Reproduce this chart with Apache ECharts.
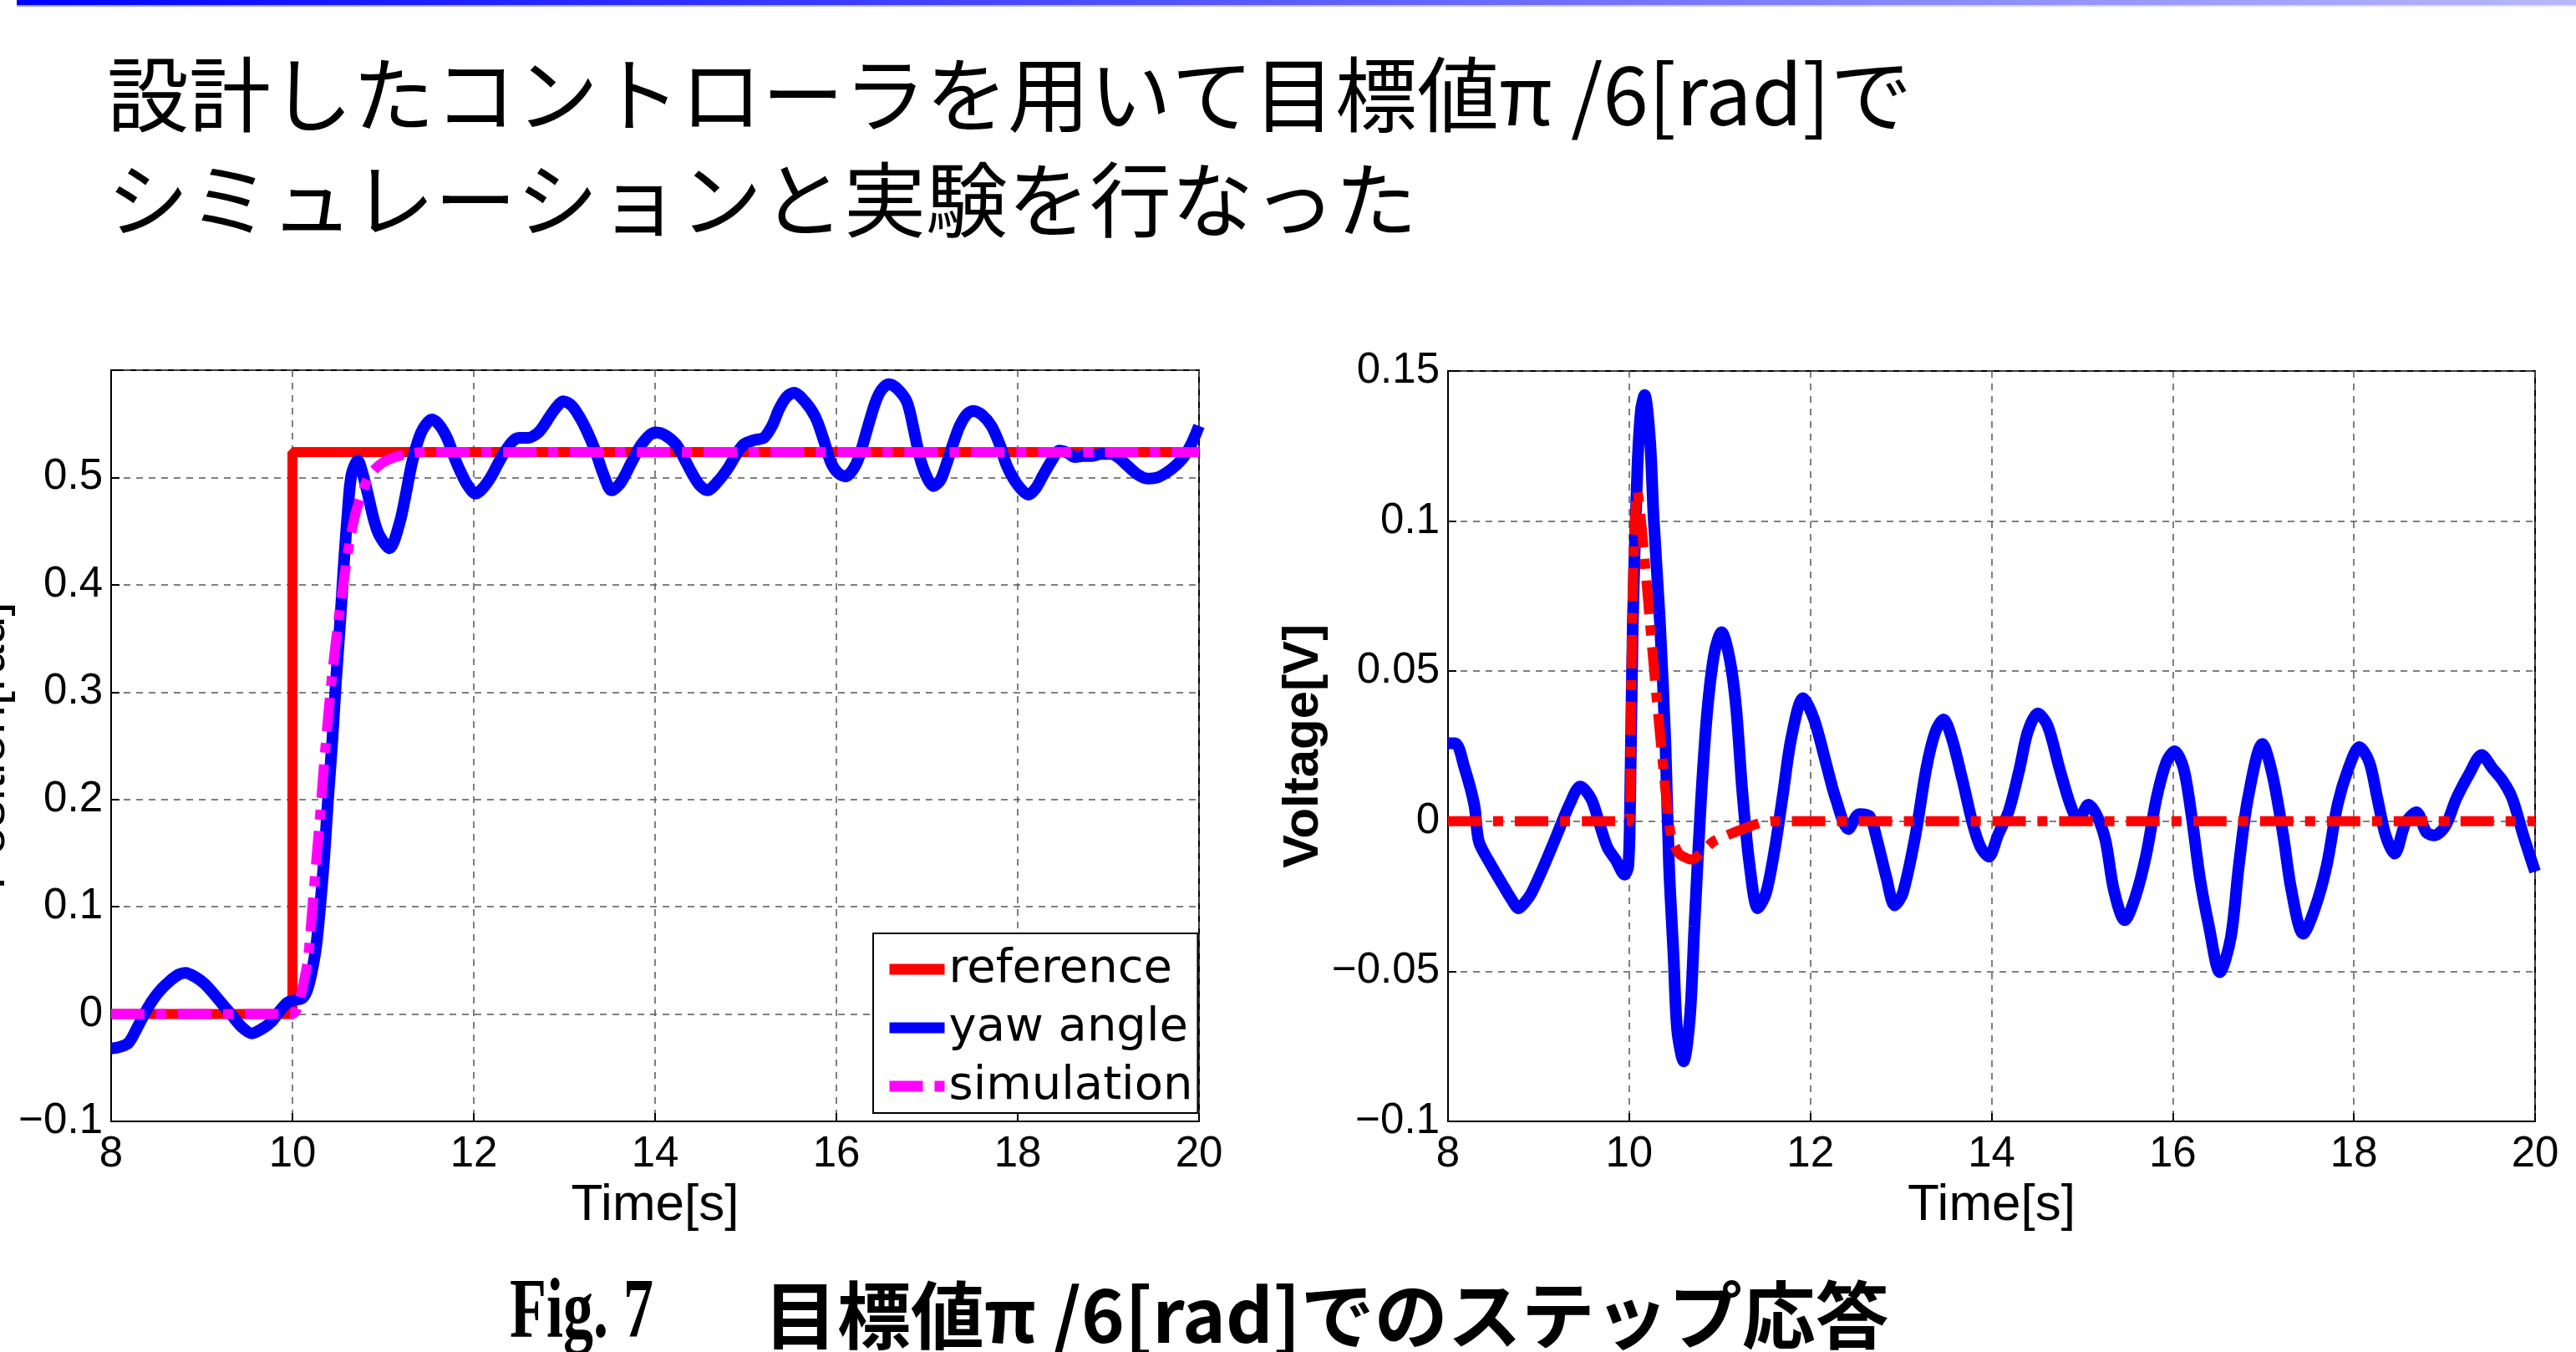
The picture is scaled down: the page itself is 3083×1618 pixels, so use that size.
<!DOCTYPE html>
<html>
<head>
<meta charset="utf-8">
<title>目標値π/6[rad]でのステップ応答</title>
<script src="https://cdn.jsdelivr.net/npm/echarts/dist/echarts.min.js"></script>
<style>
  html, body { margin: 0; padding: 0; background: #fff; }
  #chart { width: 3083px; height: 1618px; }
</style>
</head>
<body>
<div id="chart"></div>
<script>
// --- left plot: position response ---
const refTime = [8, 10, 10, 20]
const refAngle = [0, 0, 0.5236, 0.5236]

const yawTime = [8.0, 8.08, 8.19, 8.28, 8.36, 8.45, 8.54, 8.65, 8.75, 8.82, 8.92, 9.02, 9.11, 9.22, 9.33, 9.44, 9.55, 9.66, 9.77, 9.86, 9.95, 10.03, 10.11, 10.16, 10.21, 10.26, 10.3, 10.35, 10.39, 10.44, 10.48, 10.53, 10.57, 10.61, 10.65, 10.72, 10.77, 10.83, 10.9, 10.96, 11.07, 11.18, 11.25, 11.32, 11.42, 11.54, 11.62, 11.71, 11.78, 11.84, 11.93, 12.02, 12.1, 12.2, 12.3, 12.42, 12.5, 12.6, 12.7, 12.77, 12.88, 12.99, 13.08, 13.17, 13.25, 13.34, 13.43, 13.52, 13.62, 13.74, 13.86, 14.0, 14.1, 14.23, 14.32, 14.4, 14.49, 14.58, 14.68, 14.8, 14.9, 14.98, 15.1, 15.2, 15.29, 15.37, 15.45, 15.53, 15.65, 15.77, 15.86, 15.94, 16.02, 16.1, 16.18, 16.25, 16.34, 16.43, 16.5, 16.58, 16.68, 16.78, 16.85, 16.92, 17.0, 17.07, 17.15, 17.22, 17.29, 17.36, 17.44, 17.51, 17.61, 17.71, 17.8, 17.88, 18.0, 18.12, 18.2, 18.28, 18.37, 18.46, 18.55, 18.63, 18.72, 18.81, 18.92, 19.03, 19.12, 19.21, 19.32, 19.43, 19.54, 19.65, 19.74, 19.83, 19.92, 20.0]
const yawAngle = [-0.032, -0.031, -0.027, -0.014, -0.001, 0.012, 0.022, 0.031, 0.037, 0.0385, 0.035, 0.029, 0.021, 0.01, -0.001, -0.012, -0.018, -0.014, -0.007, 0.003, 0.011, 0.013, 0.015, 0.022, 0.038, 0.062, 0.095, 0.145, 0.197, 0.255, 0.31, 0.37, 0.423, 0.468, 0.502, 0.516, 0.505, 0.485, 0.46, 0.446, 0.434, 0.457, 0.484, 0.514, 0.542, 0.554, 0.549, 0.536, 0.52, 0.508, 0.493, 0.485, 0.49, 0.502, 0.518, 0.533, 0.537, 0.537, 0.541, 0.548, 0.562, 0.571, 0.567, 0.556, 0.543, 0.525, 0.503, 0.488, 0.495, 0.514, 0.532, 0.542, 0.54, 0.531, 0.518, 0.505, 0.493, 0.488, 0.495, 0.508, 0.522, 0.531, 0.535, 0.537, 0.548, 0.564, 0.575, 0.579, 0.571, 0.556, 0.535, 0.514, 0.504, 0.501, 0.507, 0.519, 0.545, 0.57, 0.582, 0.587, 0.582, 0.57, 0.546, 0.519, 0.5, 0.492, 0.498, 0.514, 0.532, 0.548, 0.559, 0.562, 0.558, 0.548, 0.531, 0.511, 0.493, 0.484, 0.49, 0.502, 0.515, 0.525, 0.523, 0.519, 0.52, 0.52, 0.522, 0.522, 0.518, 0.511, 0.503, 0.499, 0.5, 0.505, 0.511, 0.519, 0.532, 0.548]

const simTime = [8.0, 10.0, 10.05, 10.1, 10.17, 10.23, 10.3, 10.36, 10.43, 10.5, 10.57, 10.63, 10.7, 10.77, 10.83, 10.9, 11.0, 11.13, 11.27, 11.45, 20.0]
const simAngle = [0, 0, 0.005, 0.02, 0.05, 0.11, 0.18, 0.245, 0.31, 0.362, 0.406, 0.44, 0.468, 0.486, 0.499, 0.507, 0.514, 0.519, 0.522, 0.5236, 0.5236]

// --- right plot: input voltage ---
const voltTime = [8.0, 8.08, 8.18, 8.29, 8.34, 8.46, 8.6, 8.7, 8.78, 8.85, 8.92, 9.06, 9.2, 9.34, 9.46, 9.58, 9.67, 9.76, 9.85, 9.95, 9.99, 10.01, 10.04, 10.09, 10.13, 10.17, 10.23, 10.27, 10.34, 10.4, 10.44, 10.49, 10.53, 10.6, 10.67, 10.72, 10.79, 10.86, 10.94, 11.02, 11.11, 11.18, 11.25, 11.33, 11.42, 11.51, 11.61, 11.7, 11.79, 11.92, 12.04, 12.17, 12.28, 12.42, 12.54, 12.65, 12.74, 12.84, 12.93, 13.02, 13.16, 13.28, 13.38, 13.47, 13.56, 13.68, 13.79, 13.88, 13.97, 14.07, 14.19, 14.31, 14.4, 14.51, 14.62, 14.75, 14.87, 14.96, 15.07, 15.17, 15.26, 15.35, 15.47, 15.59, 15.71, 15.82, 15.93, 16.02, 16.12, 16.21, 16.3, 16.4, 16.52, 16.64, 16.73, 16.83, 16.99, 17.1, 17.22, 17.31, 17.44, 17.57, 17.7, 17.82, 17.94, 18.06, 18.17, 18.26, 18.35, 18.45, 18.57, 18.69, 18.8, 18.89, 19.01, 19.13, 19.27, 19.41, 19.53, 19.64, 19.75, 19.87, 20.0]
const voltMeasured = [0.026, 0.026, 0.018, 0.0055, -0.0067, -0.0138, -0.021, -0.026, -0.029, -0.027, -0.024, -0.0148, -0.0047, 0.0055, 0.0116, 0.0075, -0.0006, -0.0087, -0.0128, -0.0178, -0.015, 0.0055, 0.066, 0.117, 0.137, 0.142, 0.127, 0.101, 0.066, 0.026, -0.0148, -0.045, -0.0696, -0.08, -0.0655, -0.035, 0.0055, 0.036, 0.056, 0.063, 0.054, 0.038, 0.0095, -0.0148, -0.029, -0.024, -0.0087, 0.0095, 0.0278, 0.041, 0.034, 0.0197, 0.0075, -0.0026, 0.0024, 0.0018, -0.0067, -0.0189, -0.028, -0.024, -0.0047, 0.0176, 0.0298, 0.0339, 0.0278, 0.0136, -0.0006, -0.0087, -0.0118, -0.0047, 0.0034, 0.0176, 0.0298, 0.0359, 0.0318, 0.0176, 0.0055, 0.0004, 0.0055, 0.0014, -0.0067, -0.0229, -0.033, -0.025, -0.0108, 0.0075, 0.0197, 0.0233, 0.0176, 0.0014, -0.0189, -0.035, -0.0503, -0.039, -0.0148, 0.0075, 0.0258, 0.0156, -0.0047, -0.0229, -0.0375, -0.029, -0.0148, 0.0055, 0.0176, 0.0247, 0.0197, 0.0075, -0.0047, -0.0108, -0.0006, 0.003, -0.0037, -0.0047, -0.0016, 0.0075, 0.0156, 0.0221, 0.0176, 0.0136, 0.0075, -0.0047, -0.0168]

const voltSimTime = [8.0, 10.0, 10.02, 10.05, 10.09, 10.16, 10.23, 10.3, 10.39, 10.46, 10.55, 10.69, 10.93, 11.16, 11.44, 11.6, 20.0]
const voltSim = [0, 0, 0.04, 0.09, 0.11, 0.0907, 0.066, 0.042, 0.0136, -0.0047, -0.0108, -0.0128, -0.0067, -0.0037, -0.0006, 0, 0]

const xTicks = { min: 8, max: 20, interval: 2 }
const posTicks = { min: -0.1, max: 0.6, interval: 0.1, lastLabel: 0.5 }
const voltTicks = { min: -0.1, max: 0.15, interval: 0.05, lastLabel: 0.15 }

const headingText = '設計したコントローラを用いて目標値π /6[rad]で\nシミュレーションと実験を行なった'
const figLabel = 'Fig. 7'
const captionText = '目標値π /6[rad]でのステップ応答'

const zip = (xs, ys) => xs.map((x, i) => [x, ys[i]])

const DASH_DOT = [40, 14, 12, 14]
const gridLine = { show: true, lineStyle: { color: '#555', width: 1.5, type: [8, 7] } }
const tickFont = { fontFamily: 'Liberation Sans', fontSize: 51, color: '#000' }

const fmt = (last) => (v) => {
  if (v > last + 1e-9) return ''
  const s = String(parseFloat(v.toFixed(3)))
  return s.replace('-', '\u2212')
}

const xAxisOf = (idx) => ({
  type: 'value',
  gridIndex: idx,
  min: xTicks.min,
  max: xTicks.max,
  interval: xTicks.interval,
  name: 'Time[s]',
  nameLocation: 'middle',
  nameGap: 64,
  nameTextStyle: { fontFamily: 'Liberation Sans', fontSize: 62, color: '#000' },
  axisLine: { onZero: false, lineStyle: { color: '#000', width: 2 } },
  axisTick: { inside: true, length: 10, lineStyle: { color: '#000', width: 2 } },
  axisLabel: { ...tickFont, margin: 14 },
  splitLine: gridLine,
})

const chart = echarts.init(document.getElementById('chart'))

chart.setOption({
  backgroundColor: '#fff',
  animation: false,
  title: [
    {
      text: headingText,
      left: 128,
      top: 50,
      padding: 0,
      textStyle: {
        fontFamily: 'Noto Sans CJK JP',
        fontWeight: 'normal',
        fontSize: 98,
        lineHeight: 126,
        color: '#000',
      },
    },
    {
      text: captionText,
      left: 914,
      top: 1530,
      padding: 0,
      textStyle: { fontFamily: 'Noto Sans CJK JP', fontWeight: 'bold', fontSize: 88, color: '#000' },
    },
  ],
  graphic: [
    {
      type: 'rect',
      shape: { x: 20, y: 0, width: 3063, height: 6 },
      style: {
        fill: new echarts.graphic.LinearGradient(0, 0, 1, 0, [
          { offset: 0, color: '#0000ff' },
          { offset: 1, color: '#b8b8f8' },
        ]),
      },
    },
    {
      type: 'rect',
      shape: { x: 20, y: 6, width: 3063, height: 2 },
      style: {
        fill: new echarts.graphic.LinearGradient(0, 0, 1, 0, [
          { offset: 0, color: '#a0a0ff' },
          { offset: 1, color: '#e2e2fb' },
        ]),
      },
    },
    {
      // the figure number is set in a tall, narrow serif in the original
      type: 'text',
      x: 610,
      y: 1522,
      scaleY: 1.42,
      style: {
        text: figLabel,
        font: 'bold 72px "Liberation Serif"',
        fill: '#000',
        verticalAlign: 'top',
      },
    },
  ],
  legend: {
    data: ['reference', 'yaw angle', 'simulation'],
    orient: 'vertical',
    left: 1045,
    top: 1117,
    padding: [15, 6, 4, 13],
    itemWidth: 66,
    itemHeight: 13,
    itemGap: 14,
    backgroundColor: '#fff',
    borderColor: '#000',
    borderWidth: 2,
    borderRadius: 0,
    lineStyle: { width: 13 },
    textStyle: { fontFamily: 'DejaVu Sans', fontSize: 56, lineHeight: 56, color: '#000' },
  },
  grid: [
    { left: 133, top: 443, width: 1302, height: 899, show: true, borderColor: '#000', borderWidth: 2, backgroundColor: 'transparent', containLabel: false, outerBoundsMode: 'none' },
    { left: 1733, top: 444, width: 1301, height: 898, show: true, borderColor: '#000', borderWidth: 2, backgroundColor: 'transparent', containLabel: false, outerBoundsMode: 'none' },
  ],
  xAxis: [xAxisOf(0), xAxisOf(1)],
  yAxis: [
    {
      type: 'value',
      gridIndex: 0,
      min: posTicks.min,
      max: posTicks.max,
      interval: posTicks.interval,
      name: 'Position[rad]',
      nameLocation: 'middle',
      nameGap: 110,
      nameTextStyle: { fontFamily: 'Liberation Sans', fontSize: 62, color: '#000' },
      axisLine: { show: true, onZero: false, lineStyle: { color: '#000', width: 2 } },
      axisTick: { inside: true, length: 10, lineStyle: { color: '#000', width: 2 } },
      axisLabel: { ...tickFont, margin: 10, formatter: fmt(posTicks.lastLabel) },
      splitLine: gridLine,
    },
    {
      type: 'value',
      gridIndex: 1,
      min: voltTicks.min,
      max: voltTicks.max,
      interval: voltTicks.interval,
      name: 'Voltage[V]',
      nameLocation: 'middle',
      nameGap: 138,
      nameTextStyle: { fontFamily: 'Liberation Sans', fontWeight: 'bold', fontSize: 60, color: '#000' },
      axisLine: { show: true, onZero: false, lineStyle: { color: '#000', width: 2 } },
      axisTick: { inside: true, length: 10, lineStyle: { color: '#000', width: 2 } },
      axisLabel: { ...tickFont, margin: 10, formatter: fmt(voltTicks.lastLabel) },
      splitLine: gridLine,
    },
  ],
  series: [
    {
      name: 'reference',
      type: 'line',
      xAxisIndex: 0,
      yAxisIndex: 0,
      data: zip(refTime, refAngle),
      symbol: 'none',
      color: '#ff0000',
      lineStyle: { color: '#ff0000', width: 12 },
      z: 2,
    },
    {
      name: 'yaw angle',
      type: 'line',
      xAxisIndex: 0,
      yAxisIndex: 0,
      data: zip(yawTime, yawAngle),
      symbol: 'none',
      smooth: 0.3,
      color: '#0000ff',
      lineStyle: { color: '#0000ff', width: 14 },
      z: 3,
    },
    {
      name: 'simulation',
      type: 'line',
      xAxisIndex: 0,
      yAxisIndex: 0,
      data: zip(simTime, simAngle),
      symbol: 'none',
      smooth: 0.2,
      color: '#ff00ff',
      lineStyle: { color: '#ff00ff', width: 12, type: DASH_DOT },
      z: 4,
    },
    {
      name: 'measured voltage',
      type: 'line',
      xAxisIndex: 1,
      yAxisIndex: 1,
      data: zip(voltTime, voltMeasured),
      symbol: 'none',
      smooth: 0.3,
      color: '#0000ff',
      lineStyle: { color: '#0000ff', width: 14 },
      z: 3,
    },
    {
      name: 'simulated voltage',
      type: 'line',
      xAxisIndex: 1,
      yAxisIndex: 1,
      data: zip(voltSimTime, voltSim),
      symbol: 'none',
      smooth: 0.2,
      color: '#ff0000',
      lineStyle: { color: '#ff0000', width: 12, type: DASH_DOT },
      z: 4,
    },
  ],
})
</script>
</body>
</html>
